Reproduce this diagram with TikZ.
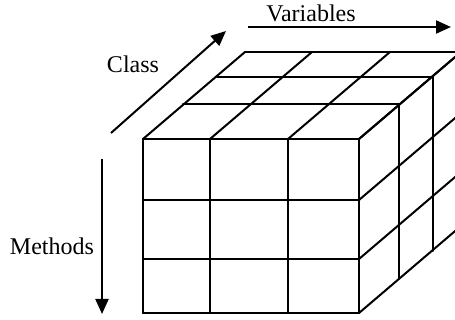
\documentclass[tikz,border=0pt]{standalone}
\usepackage{fontspec}
\setmainfont{Liberation Serif}
\usetikzlibrary{arrows.meta}
\tikzset{
  grid/.style={line width=1pt, line cap=round},
  axis/.style={line width=1pt, -{Triangle[length=7.5pt,width=6.5pt]}},
  axislabel/.style={anchor=base, inner sep=0pt, font=\fontsize{12}{14}\selectfont}
}
\begin{document}
\begin{tikzpicture}[x=0.5pt,y=-0.5pt]
\useasboundingbox (0,0) rectangle (455,320);
% cube
\begin{scope}
\clip (0,0) rectangle (455,320);
% front face
\foreach \x in {143,210,288,359}
  \draw[grid] (\x,139) -- (\x,313);
\foreach \y in {139,200,259,313}
  \draw[grid] (143,\y) -- (359,\y);
% top face
\foreach \dx/\dy in {40/-35,74/-62,102/-87}
  \draw[grid] (143+\dx,139+\dy) -- (359+\dx,139+\dy);
\foreach \x in {143,210,288,359}
  \draw[grid] (\x,139) -- (\x+102,52);
% right face
\foreach \dx/\dy in {40/-35,74/-62,102/-87}
  \draw[grid] (359+\dx,139+\dy) -- (359+\dx,313+\dy);
\foreach \y in {139,200,259,313}
  \draw[grid] (359,\y) -- (461,\y-87);
\end{scope}
% axes
\coordinate (var start) at (248,27);
\coordinate (var end) at (451,27);
\coordinate (class start) at (111,133);
\coordinate (class end) at (226,31);
\coordinate (meth start) at (102,159);
\coordinate (meth end) at (102,314);
\draw[axis] (var start) -- (var end);
\draw[axis] (class start) -- (class end);
\draw[axis] (meth start) -- (meth end);
\node[axislabel] (variables) at (311,22) {Variables};
\node[axislabel] (class) at (133,73) {Class};
\node[axislabel] (methods) at (52,255) {Methods};
\end{tikzpicture}
\end{document}
